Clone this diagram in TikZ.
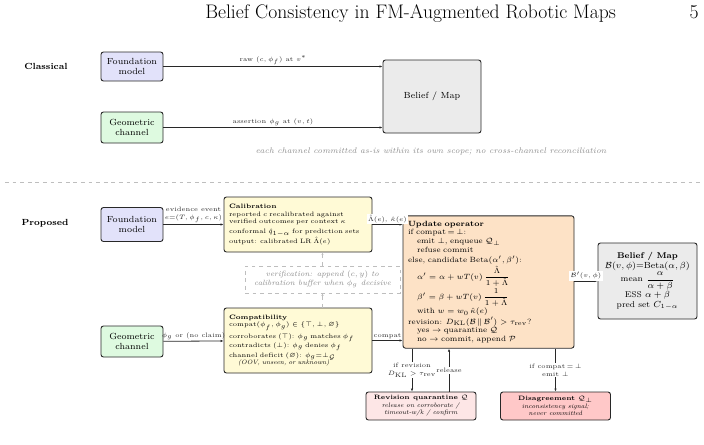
\documentclass[tikz,border=0pt]{standalone}
\usepackage{amsmath,amssymb}
\usetikzlibrary{arrows.meta, positioning, calc}
\newlength{\pxu}
\setlength{\pxu}{0.79pt}
\definecolor{colFM}{RGB}{226,226,250}
\definecolor{colGeo}{RGB}{222,250,224}
\definecolor{colMap}{RGB}{235,235,235}
\definecolor{colStage}{RGB}{255,250,214}
\definecolor{colUpd}{RGB}{253,226,198}
\definecolor{colQuar}{RGB}{253,230,230}
\definecolor{colDis}{RGB}{255,200,200}
\definecolor{colBorder}{RGB}{40,40,40}
\definecolor{colArrow}{RGB}{40,40,40}
\definecolor{colNote}{RGB}{140,140,140}
\definecolor{colSep}{RGB}{190,190,190}
\tikzset{
  box/.style={
    rectangle, rounded corners=2.5\pxu,
    draw=colBorder, line width=0.9\pxu,
    inner sep=4\pxu
  },
  srcBox/.style={box, minimum width=62\pxu, align=center, font=\scriptsize},
  fmBox/.style={srcBox, fill=colFM},
  geoBox/.style={srcBox, fill=colGeo},
  stageBox/.style={box, fill=colStage, inner sep=5\pxu, text width=138\pxu, align=left, font=\tiny},
  updBox/.style={box, fill=colUpd, inner sep=5\pxu, text width=161\pxu, align=left, font=\fontsize{6}{7}\selectfont},
  mapBox/.style={box, fill=colMap, align=center},
  quarBox/.style={box, fill=colQuar, minimum width=110\pxu, minimum height=28\pxu, align=center, inner sep=2\pxu, font=\tiny},
  disBox/.style={quarBox, fill=colDis},
  noteBox/.style={rectangle, draw=colSep, dashed, line width=0.6\pxu, text=colNote, fill=white,
    align=center, font=\fontsize{6}{7.2}\selectfont\itshape, minimum width=155\pxu, minimum height=27\pxu, inner sep=2\pxu},
  arr/.style={-{Latex[length=2.4pt, width=2pt]}, line width=0.8\pxu, color=colArrow},
  vArr/.style={-{Latex[length=2pt, width=1.8pt]}, dashed, line width=0.6\pxu, color=colSep},
  lbl/.style={font=\tiny, text=colArrow, inner sep=1.2\pxu},
  secLabel/.style={font=\scriptsize\bfseries}
}

\begin{document}
\begin{tikzpicture}[x=\pxu, y=-\pxu]
  \useasboundingbox (0,0) rectangle (704,444);

  % running head
  \node[font=\fontsize{15.5}{18}\selectfont, anchor=base west, inner sep=0pt] (runHead) at (205,18) {Belief Consistency in FM-Augmented Robotic Maps};
  \node[font=\fontsize{15.5}{18}\selectfont, anchor=base east, inner sep=0pt] (pageNo) at (699,18) {5};

  % classical pipeline
  \node[secLabel] (classTag) at (46,66) {Classical};
  \node[fmBox, minimum height=29\pxu] (cFM) at (132,66.5) {Foundation\\model};
  \node[geoBox, minimum height=31\pxu] (cGeo) at (132,127.5) {Geometric\\channel};
  \node[mapBox, minimum width=98\pxu, minimum height=73\pxu, font=\scriptsize] (cMap) at (432,96.5) {Belief / Map};

  \draw[arr] (cFM) -- node[lbl, above] {raw $(c,\phi_f)$ at $v^*$} (cFM -| cMap.west);
  \draw[arr] (cGeo) -- node[lbl, above] {assertion $\phi_g$ at $(v,t)$} (cGeo -| cMap.west);

  \node[font=\fontsize{6.5}{7.6}\selectfont\itshape, text=colNote] (cNote) at (431,151) {each channel committed as-is within its own scope; no cross-channel reconciliation};

  % separator
  \coordinate (sepL) at (5,182);
  \coordinate (sepR) at (700,182);
  \draw[colSep, dashed, line width=0.6\pxu] (sepL) -- (sepR);

  % proposed pipeline
  \node[secLabel] (propTag) at (45,223) {Proposed};
  \node[fmBox, minimum height=34\pxu] (pFM) at (132,224.5) {Foundation\\model};
  \node[geoBox, minimum height=31\pxu] (pGeo) at (132,341.5) {Geometric\\channel};

  \node[stageBox, minimum height=55\pxu] (cal) at (298,224.5) {%
    \textbf{Calibration}\\
    reported $c$ recalibrated against\\
    verified outcomes per context $\kappa$\\[1.5pt]
    conformal $\hat q_{1-\alpha}$ for prediction sets\\
    output: calibrated LR $\hat\Lambda(e)$};

  \node[stageBox, minimum height=65\pxu] (cmp) at (298,340.5) {%
    \textbf{Compatibility}\\
    compat$(\phi_f,\phi_g)\in\{\top,\bot,\varnothing\}$\\[1.5pt]
    corroborates $(\top)$: $\phi_g$ matches $\phi_f$\\
    contradicts $(\bot)$: $\phi_g$ denies $\phi_f$\\
    channel deficit $(\varnothing)$: $\phi_g{=}\bot_{\mathcal{G}}$\\
    \hspace*{9\pxu}\textit{(OOV, unseen, or unknown)}};

  \node[noteBox] (verif) at (322.5,279.5) {verification: append $(c,y)$ to\\calibration buffer when $\phi_g$ decisive};

  \node[updBox, minimum width=171\pxu, minimum height=132\pxu] (upd) at (488.5,282) {%
    \textbf{Update operator}\\
    if compat$\,{=}\,\bot$:\\
    \hspace*{9\pxu}emit $\bot$, enqueue $\mathcal{Q}_\bot$\\
    \hspace*{9\pxu}refuse commit\\[1pt]
    else, candidate Beta$(\alpha',\beta')$:\\
    \hspace*{9\pxu}$\alpha'=\alpha+wT(v)\,\dfrac{\hat\Lambda}{1+\hat\Lambda}$\\
    \hspace*{9\pxu}$\beta'=\beta+wT(v)\,\dfrac{1}{1+\hat\Lambda}$\\
    \hspace*{9\pxu}with $w=w_0\,\hat\kappa(e)$\\[1pt]
    revision: $D_{\mathrm{KL}}(\mathcal{B}\,\|\,\mathcal{B}')>\tau_{\mathrm{rev}}$?\\
    \hspace*{9\pxu}yes $\to$ quarantine $\mathcal{Q}$\\
    \hspace*{9\pxu}no $\to$ commit, append $\mathcal{P}$};

  \node[mapBox, minimum width=99\pxu, minimum height=76\pxu, inner sep=2\pxu, font=\fontsize{6.6}{7.8}\selectfont] (pMap) at (647.5,281) {%
    \textbf{Belief / Map}\\
    $\mathcal{B}(v,\phi){=}\mathrm{Beta}(\alpha,\beta)$\\
    mean $\dfrac{\alpha}{\alpha+\beta}$\\
    ESS $\alpha+\beta$\\
    pred set $C_{1-\alpha}$};

  \node[quarBox] (qrt) at (421,406) {%
    \textbf{Revision quarantine} $\mathcal{Q}$\\
    \textit{release on corroborate /}\\
    \textit{timeout-w/k / confirm}};
  \node[disBox] (dis) at (555.5,406) {%
    \textbf{Disagreement} $\mathcal{Q}_\bot$\\
    \textit{inconsistency signal;}\\
    \textit{never committed}};

  % main flow
  \draw[arr] (pFM) -- node[lbl, above, align=center] {evidence event\\$e{=}(T,\phi_f,c,\kappa)$} (cal);
  \draw[arr] (pGeo) -- node[lbl, above] {$\phi_g$ or (no claim)} (cmp);
  \draw[arr] (cal) -- node[lbl, above, fill=white] {$\hat\Lambda(e)$, $\hat\kappa(e)$} (cal -| upd.west);
  \draw[arr] (cmp) -- node[lbl, above] {compat} (cmp -| upd.west);
  \draw[arr] (upd.east |- pMap.west) -- node[lbl, above, fill=white] {$\mathcal{B}'(v,\phi)$} (pMap.west);

  % verification feedback
  \draw[vArr] (cmp.north -| verif) -- (verif.south);
  \draw[vArr] (verif.north) -- (verif.north |- cal.south);

  % quarantine and disagreement
  \coordinate (revIn) at ([xshift=-9\pxu]qrt.north);
  \coordinate (relOut) at ([xshift=28\pxu]qrt.north);
  \draw[arr] (upd.south -| revIn) -- node[lbl, fill=white, align=center] {if revision\\$D_{\mathrm{KL}}>\tau_{\mathrm{rev}}$} (revIn);
  \draw[arr] (relOut) -- node[lbl, fill=white] {release} (upd.south -| relOut);
  \draw[arr] (upd.south -| dis) -- node[lbl, fill=white, align=center] {if compat$\,{=}\,\bot$\\emit $\bot$} (dis);

\end{tikzpicture}
\end{document}
